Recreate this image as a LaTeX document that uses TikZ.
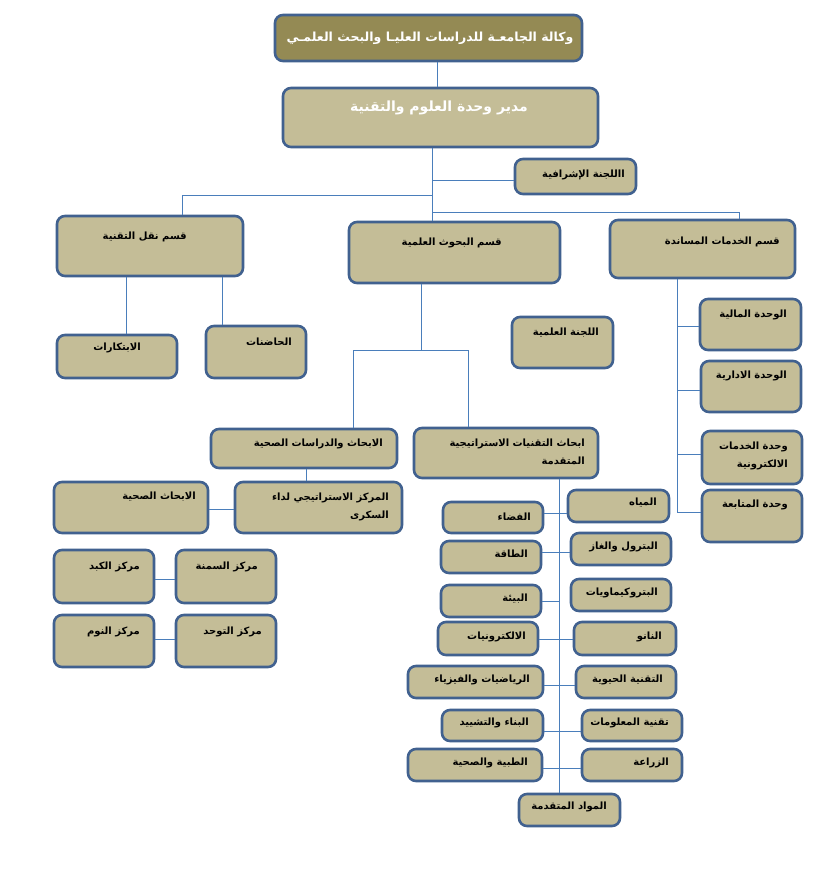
\documentclass[tikz,border=0pt]{standalone}
\usepackage{fontspec}
\newfontfamily\arabicfont[Script=Arabic]{DejaVu Sans}
\TeXXeTstate=1
\usetikzlibrary{fit,calc}
\definecolor{boxfill}{HTML}{C4BD97}
\definecolor{topfill}{HTML}{948A54}
\definecolor{boxline}{HTML}{41618F}
\definecolor{connline}{HTML}{4A7EBB}
\newcommand\ar[1]{\beginR #1\endR}
\tikzset{
  box/.style={draw=boxline, fill=boxfill, line width=2.6pt, rounded corners=8pt, inner sep=0pt},
  lbl/.style={inner sep=0pt, align=right, font=\arabicfont\bfseries\fontsize{10}{18}\selectfont},
  conn/.style={draw=connline, line width=1pt}
}
\newcommand\ob[8]{%
  \node[box, fit={(#2,#3)(#4,#5)}] (#1) {};
  \node[lbl, anchor=east] (#1t) at (#4-#6,#3+#7) {#8};}
\begin{document}
\begin{tikzpicture}[x=1pt,y=-1pt]
\useasboundingbox[fill=white] (0,0) rectangle (832,883);
% junctions
\coordinate (jA) at (432,180);
\coordinate (jB) at (432,195);
\coordinate (jC) at (432,212);
\coordinate (jL) at (182,195);
\coordinate (jR) at (739,212);
% boxes
\node[box, fill=topfill, fit={(275,15)(582,61)}] (top) {};
\node[lbl, text=white, font=\arabicfont\bfseries\fontsize{12.5}{15}\selectfont] (topt) at (430,38) {\ar{وكالة الجامعـة للدراسات العليـا والبحث العلمـي}};
\node[box, fit={(283,88)(598,147)}] (mgr) {};
\node[lbl, anchor=east, text=white, font=\arabicfont\bfseries\fontsize{14}{16}\selectfont] (mgrt) at (528,108) {\ar{مدير وحدة  العلوم والتقنية}};
\ob{ishraf}{515}{159}{636}{194}{11}{16}{\ar{االلجنة الإشرافية}}
\ob{naql}{57}{216}{243}{276}{56}{21}{\ar{قسم نقل التقنية}}
\ob{buhuth}{349}{222}{560}{283}{58}{21}{\ar{قسم البحوث العلمية}}
\ob{khadamat}{610}{220}{795}{278}{15}{22}{\ar{قسم الخدمات المساندة}}
\ob{ibtikar}{57}{335}{177}{378}{36}{13}{\ar{الابتكارات}}
\ob{hadinat}{206}{326}{306}{378}{14}{16}{\ar{الحاضنات}}
\ob{ilmiya}{512}{317}{613}{368}{14}{16}{\ar{اللجنة العلمية}}
\ob{maliya}{700}{299}{801}{350}{14}{16}{\ar{الوحدة المالية}}
\ob{idariya}{701}{361}{801}{412}{14}{15}{\ar{الوحدة الادارية}}
\ob{elec}{702}{431}{802}{484}{14}{25}{\ar{وحدة الخدمات}\\\ar{الالكترونية}}
\ob{mutaba}{702}{490}{802}{542}{14}{15}{\ar{وحدة المتابعة}}
\ob{sihhiya}{211}{429}{397}{468}{14}{15}{\ar{الابحاث والدراسات الصحية}}
\ob{strat}{414}{428}{598}{478}{13}{24}{\ar{ابحاث التقنيات الاستراتيجية}\\\ar{المتقدمة}}
\ob{sukkari}{235}{482}{402}{533}{13}{25}{\ar{المركز الاستراتيجي لداء}\\\ar{السكرى}}
\ob{abhath}{54}{482}{208}{533}{12}{15}{\ar{الابحاث الصحية}}
\ob{samna}{176}{550}{276}{603}{18}{17}{\ar{مركز السمنة}}
\ob{kabid}{54}{550}{154}{603}{14}{17}{\ar{مركز الكبد}}
\ob{tawahhud}{176}{615}{276}{667}{14}{17}{\ar{مركز التوحد}}
\ob{nawm}{54}{615}{154}{667}{14}{17}{\ar{مركز النوم}}
% right tree
\ob{miyah}{568}{490}{669}{522}{12}{13}{\ar{المياه}}
\ob{fada}{443}{502}{543}{533}{12}{15}{\ar{الفضاء}}
\ob{batrol}{571}{533}{671}{565}{13}{14}{\ar{البترول والغاز}}
\ob{taqa}{441}{541}{541}{573}{13}{13}{\ar{الطاقة}}
\ob{petchem}{571}{579}{671}{611}{13}{14}{\ar{البتروكيماويات}}
\ob{biaa}{441}{585}{541}{617}{13}{14}{\ar{البيئة}}
\ob{electr}{438}{622}{538}{655}{12}{15}{\ar{الالكترونيات}}
\ob{nano}{574}{622}{676}{655}{14}{15}{\ar{النانو}}
\ob{riyad}{408}{666}{543}{698}{13}{14}{\ar{الرياضيات والفيزياء}}
\ob{hayawi}{576}{666}{676}{698}{13}{14}{\ar{التقنية الحيوية}}
\ob{binaa}{442}{710}{543}{741}{14}{13}{\ar{البناء والتشييد}}
\ob{maalu}{582}{710}{682}{741}{13}{13}{\ar{تقنية المعلومات}}
\ob{tibbiya}{408}{749}{542}{781}{14}{14}{\ar{الطبية والصحية}}
\ob{ziraa}{582}{749}{682}{781}{13}{14}{\ar{الزراعة}}
\ob{mawad}{519}{794}{620}{826}{13}{13}{\ar{المواد المتقدمة}}
% connectors
\draw[conn] (top.south -| 437,0) -- (mgr.north -| 437,0);
\draw[conn] (mgr.south -| 432,0) -- (buhuth.north -| 432,0);
\draw[conn] (jA) -- (ishraf.west |- jA);
\draw[conn] (jB) -- (jL) -- (naql.north -| jL);
\draw[conn] (jC) -- (jR) -- (khadamat.north -| jR);
\draw[conn] (naql.south -| 126,0) -- (ibtikar.north -| 126,0);
\draw[conn] (naql.south -| 222,0) -- (hadinat.north -| 222,0);
\coordinate (jb) at (421,350);
\draw[conn] (buhuth.south -| jb) -- (jb);
\draw[conn] (sihhiya.north -| 353,0) -- (353,350) -- (468,350) -- (strat.north -| 468,0);
\draw[conn] (sihhiya.south -| 306,0) -- (sukkari.north -| 306,0);
\draw[conn] (abhath.east |- 0,509) -- (sukkari.west |- 0,509);
\draw[conn] (kabid.east |- 0,579) -- (samna.west |- 0,579);
\draw[conn] (nawm.east |- 0,639) -- (tawahhud.west |- 0,639);
\coordinate (js) at (677,512);
\draw[conn] (khadamat.south -| js) -- (js) -- (mutaba.west |- js);
\draw[conn] (js |- 0,326) -- (maliya.west |- 0,326);
\draw[conn] (js |- 0,390) -- (idariya.west |- 0,390);
\draw[conn] (js |- 0,454) -- (elec.west |- 0,454);
\draw[conn] (strat.south -| 559,0) -- (mawad.north -| 559,0);
\draw[conn] (fada.east |- 0,513) -- (miyah.west |- 0,513);
\draw[conn] (taqa.east |- 0,552) -- (batrol.west |- 0,552);
\draw[conn] (biaa.east |- 0,601) -- (559,601);
\draw[conn] (electr.east |- 0,639) -- (nano.west |- 0,639);
\draw[conn] (riyad.east |- 0,685) -- (hayawi.west |- 0,685);
\draw[conn] (binaa.east |- 0,731) -- (maalu.west |- 0,731);
\draw[conn] (tibbiya.east |- 0,768) -- (ziraa.west |- 0,768);
\end{tikzpicture}
\end{document}
